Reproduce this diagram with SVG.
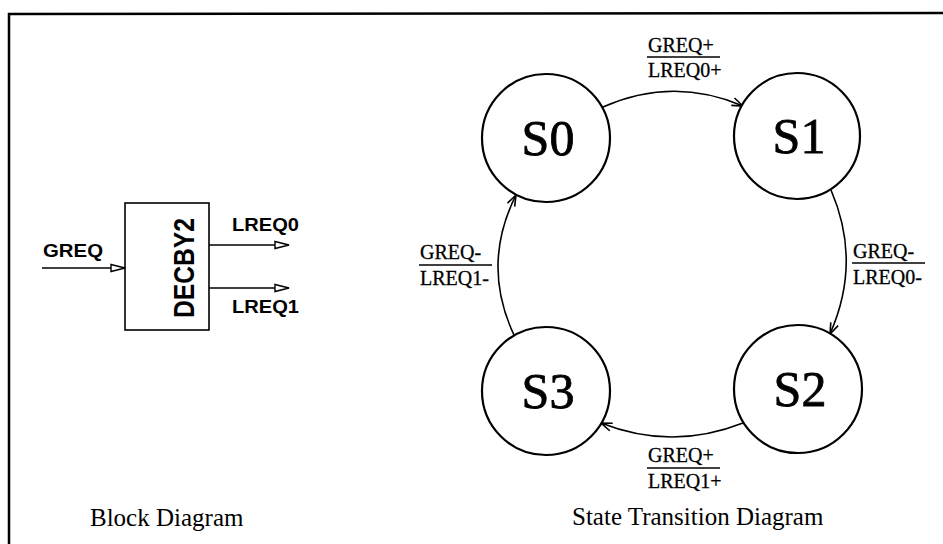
<svg xmlns="http://www.w3.org/2000/svg" width="943" height="544" viewBox="0 0 943 544">
  <style>
    .serif { font-family: "Liberation Serif", "Times New Roman", serif; fill: #000; }
    .sans { font-family: "Liberation Sans", Arial, sans-serif; font-weight: bold; fill: #000; }
    .state { fill: #fff; stroke: #000; stroke-width: 2.2; }
    .edge { fill: none; stroke: #000; stroke-width: 1.6; }
    .wire { fill: none; stroke: #000; stroke-width: 1.6; }
    .bar { stroke: #000; stroke-width: 1.3; }
    .lbl { font-size: 20px; stroke: #000; stroke-width: 0.3; }
    .sname { font-size: 50px; text-anchor: middle; stroke: #000; stroke-width: 0.8; }
  </style>
  <defs>
    <marker id="vhead" markerUnits="userSpaceOnUse" markerWidth="16" markerHeight="12" refX="12" refY="5" orient="auto">
      <path d="M1,1 L12,5 L1,9" fill="none" stroke="#000" stroke-width="1.6"/>
    </marker>
    <marker id="hollow" markerUnits="userSpaceOnUse" markerWidth="18" markerHeight="10" refX="15" refY="5" orient="auto">
      <path d="M1,1.5 L15,5 L1,8.5 Z" fill="#fff" stroke="#000" stroke-width="1.4"/>
    </marker>
  </defs>
  <rect width="943" height="544" fill="#fff"/>

  <g id="frame">
    <path d="M9,544 L9,14 L943,13" fill="none" stroke="#000" stroke-width="2.5"/>
  </g>

  <g id="block-diagram">
    <g id="decby2">
      <rect x="125" y="203" width="84" height="127" fill="#fff" stroke="#000" stroke-width="1.6"/>
      <text class="sans" transform="translate(194,268) rotate(-90)" x="0" y="0" font-size="30" text-anchor="middle" textLength="100" lengthAdjust="spacingAndGlyphs">DECBY2</text>
    </g>
    <g id="block-wires">
      <line class="wire" x1="42" y1="268" x2="125" y2="268" marker-end="url(#hollow)"/>
      <line class="wire" x1="209" y1="245" x2="289" y2="245" marker-end="url(#hollow)"/>
      <line class="wire" x1="209" y1="288" x2="289" y2="288" marker-end="url(#hollow)"/>
    </g>
    <text class="sans" x="43" y="257" font-size="18" textLength="60" lengthAdjust="spacingAndGlyphs">GREQ</text>
    <text class="sans" x="232" y="231" font-size="18" textLength="67" lengthAdjust="spacingAndGlyphs">LREQ0</text>
    <text class="sans" x="232" y="313" font-size="18" textLength="67" lengthAdjust="spacingAndGlyphs">LREQ1</text>
    <text class="serif" x="90" y="526" font-size="25">Block Diagram</text>
  </g>

  <g id="connectors">
    <path class="edge" d="M603,107 Q673,76 743,106" marker-end="url(#vhead)"/>
    <path class="edge" d="M831,190 Q862,262 830,334" marker-end="url(#vhead)"/>
    <path class="edge" d="M743,423 Q672,451 601,423" marker-end="url(#vhead)"/>
    <path class="edge" d="M514,335 Q481,265 516,195" marker-end="url(#vhead)"/>
  </g>

  <g id="edge-labels">
    <g id="label-s0-s1">
      <text class="serif lbl" x="648" y="52">GREQ+</text>
      <line class="bar" x1="647" y1="57" x2="720" y2="57"/>
      <text class="serif lbl" x="648" y="77">LREQ0+</text>
    </g>
    <g id="label-s1-s2">
      <text class="serif lbl" x="853" y="258">GREQ-</text>
      <line class="bar" x1="852" y1="263" x2="925" y2="263"/>
      <text class="serif lbl" x="853" y="284">LREQ0-</text>
    </g>
    <g id="label-s2-s3">
      <text class="serif lbl" x="648" y="462">GREQ+</text>
      <line class="bar" x1="647" y1="468" x2="720" y2="468"/>
      <text class="serif lbl" x="648" y="488">LREQ1+</text>
    </g>
    <g id="label-s3-s0">
      <text class="serif lbl" x="420" y="259">GREQ-</text>
      <line class="bar" x1="419" y1="265" x2="492" y2="265"/>
      <text class="serif lbl" x="420" y="285">LREQ1-</text>
    </g>
  </g>

  <g id="S0">
    <circle class="state" cx="546" cy="138" r="64"/>
    <text class="serif sname" x="548" y="155">S0</text>
  </g>
  <g id="S1">
    <circle class="state" cx="797" cy="136" r="63"/>
    <text class="serif sname" x="799" y="153">S1</text>
  </g>
  <g id="S2">
    <circle class="state" cx="798" cy="389" r="64"/>
    <text class="serif sname" x="800" y="406">S2</text>
  </g>
  <g id="S3">
    <circle class="state" cx="546" cy="391" r="64"/>
    <text class="serif sname" x="548" y="408">S3</text>
  </g>

  <text class="serif" x="572" y="525" font-size="25">State Transition Diagram</text>
</svg>
